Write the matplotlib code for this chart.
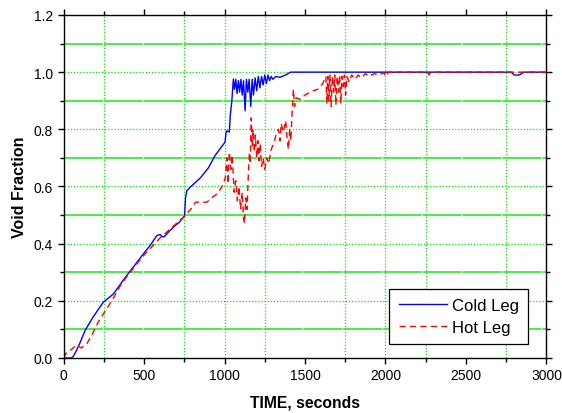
import numpy as np
import matplotlib
matplotlib.use('Agg')
import matplotlib.pyplot as plt
from matplotlib.ticker import MultipleLocator

plt.rcParams['font.family'] = ['Liberation Sans', 'DejaVu Sans']

# cold leg (blue, solid)
cold_t = [0, 50, 60, 75, 100, 134, 180, 247, 310, 392, 450, 496, 540, 579, 600, 610, 625,
          660, 693, 720, 745, 752, 758, 766, 786, 850, 900, 941, 1003, 1010, 1014, 1030,
          1036, 1045, 1055, 1062, 1070, 1078, 1086, 1094, 1102, 1110, 1118, 1128, 1136,
          1145, 1153, 1163, 1172, 1180, 1190, 1200, 1210, 1220, 1230, 1240, 1250, 1260,
          1270, 1280, 1290, 1300, 1320, 1345, 1380, 1410, 1420, 2780, 2800, 2830, 2860, 3000]
cold_v = [0.0, 0.0, 0.005, 0.02, 0.05, 0.096, 0.14, 0.195, 0.224, 0.288, 0.33, 0.364, 0.395,
          0.428, 0.432, 0.425, 0.424, 0.445, 0.463, 0.475, 0.492, 0.50, 0.56, 0.585, 0.597,
          0.63, 0.665, 0.708, 0.755, 0.79, 0.795, 0.79, 0.85, 0.895, 0.976, 0.94, 0.975,
          0.925, 0.97, 0.93, 0.975, 0.92, 0.97, 0.865, 0.975, 0.93, 0.975, 0.88, 0.975,
          0.92, 0.98, 0.935, 0.985, 0.945, 0.985, 0.955, 0.99, 0.96, 0.99, 0.97, 0.985,
          0.975, 0.985, 0.982, 0.99, 1.0, 1.0, 1.0, 0.99, 0.99, 1.0, 1.0]

# hot leg (red, dashed)
hot_t = [0, 20, 50, 80, 110, 145, 180, 215, 260, 300, 350, 400, 450, 500, 550, 600, 650,
         700, 750, 790, 820, 850, 890, 920, 955, 985, 1005, 1015, 1022, 1030, 1040, 1048,
         1060, 1070, 1080, 1090, 1100, 1110, 1118, 1124, 1132, 1140, 1148, 1155, 1160,
         1166, 1172, 1178, 1185, 1192, 1200, 1208, 1215, 1222, 1230, 1240, 1250, 1262,
         1275, 1290, 1305, 1320, 1335, 1345, 1352, 1365, 1380, 1390, 1397, 1405, 1412,
         1420, 1428, 1435, 1445, 1470, 1500, 1550, 1580, 1610, 1630, 1636, 1642, 1648,
         1655, 1662, 1670, 1678, 1685, 1692, 1700, 1708, 1715, 1722, 1730, 1738, 1745,
         1752, 1760, 1775, 1790, 1810, 1830, 1850, 1875, 1900, 1930, 1960, 1990, 2000,
         2020, 2260, 2270, 2280, 3000]
hot_v = [0.0, 0.02, 0.03, 0.045, 0.035, 0.05, 0.085, 0.125, 0.165, 0.2, 0.25, 0.29, 0.325,
         0.36, 0.39, 0.42, 0.445, 0.47, 0.495, 0.52, 0.545, 0.545, 0.545, 0.56, 0.575, 0.60,
         0.63, 0.70, 0.61, 0.72, 0.66, 0.71, 0.58, 0.62, 0.55, 0.60, 0.52, 0.58, 0.49, 0.47,
         0.56, 0.52, 0.64, 0.72, 0.68, 0.84, 0.74, 0.80, 0.72, 0.78, 0.70, 0.76, 0.69, 0.75,
         0.67, 0.70, 0.66, 0.70, 0.68, 0.73, 0.75, 0.78, 0.80, 0.76, 0.82, 0.79, 0.83, 0.76,
         0.73, 0.80, 0.76, 0.86, 0.94, 0.88, 0.91, 0.905, 0.92, 0.935, 0.94, 0.96, 0.985,
         0.89, 0.985, 0.90, 0.99, 0.88, 0.985, 0.93, 0.99, 0.885, 0.985, 0.93, 0.99, 0.89,
         0.985, 0.95, 0.99, 0.92, 0.985, 0.965, 0.99, 0.975, 0.99, 0.98, 0.995, 0.985,
         0.995, 0.99, 0.998, 0.985, 1.0, 1.0, 0.99, 1.0, 1.0]

# grid positions as in the original (some vertical lines absent there)
vgrid = [250, 750, 1000, 1250, 1750, 2000, 2250, 2750]
hgrid_dot = [0.2, 0.4, 0.6, 0.8, 1.0]
hgrid_dash = [0.1, 0.3, 0.5, 0.7, 0.9, 1.1]

fig = plt.figure(figsize=(5.62, 4.14), dpi=100)
ax = fig.add_axes([0.113, 0.1329, 0.8594, 0.8285])

for x in vgrid:
    ax.axvline(x, color='#00ee00', lw=0.9, ls=(0, (1, 1.5)), zorder=0)
for y in hgrid_dot:
    ax.axhline(y, color='#00ee00', lw=0.9, ls=(0, (1, 1.5)), zorder=0)
for y in hgrid_dash:
    ax.axhline(y, color='#44ee44', lw=1.4, ls=(0, (20, 0.5)), zorder=0)

ax.plot(cold_t, cold_v, color='#0000ff', lw=1.0, label='Cold Leg')
ax.plot(hot_t, hot_v, color='#ff0000', lw=1.0, ls=(0, (4.5, 3)), label='Hot Leg')

ax.set_xlim(0, 3000)
ax.set_ylim(0, 1.2)
ax.xaxis.set_major_locator(MultipleLocator(500))
ax.xaxis.set_minor_locator(MultipleLocator(250))
ax.yaxis.set_major_locator(MultipleLocator(0.2))
ax.yaxis.set_minor_locator(MultipleLocator(0.1))
ax.yaxis.set_major_formatter(matplotlib.ticker.FormatStrFormatter('%.1f'))
ax.tick_params(which='both', direction='out', top=True, right=True, labelsize=10,
               width=1.0, pad=3)
ax.tick_params(which='major', length=4.5)
ax.tick_params(which='minor', length=3)
for s in ax.spines.values():
    s.set_linewidth(1.0)

ax.set_xlabel('TIME, seconds', fontsize=11.3, fontweight='bold', labelpad=9)
ax.set_ylabel('Void Fraction', fontsize=11.5, fontweight='bold', labelpad=5)

leg = ax.legend(loc='lower right', bbox_to_anchor=(0.962, 0.041), borderaxespad=0,
                fontsize=12, fancybox=False, edgecolor='black', framealpha=1,
                handlelength=2.9, handletextpad=0.3, borderpad=0.55, labelspacing=0.4)
leg.get_frame().set_linewidth(0.9)

fig.savefig('out.png', dpi=100)
